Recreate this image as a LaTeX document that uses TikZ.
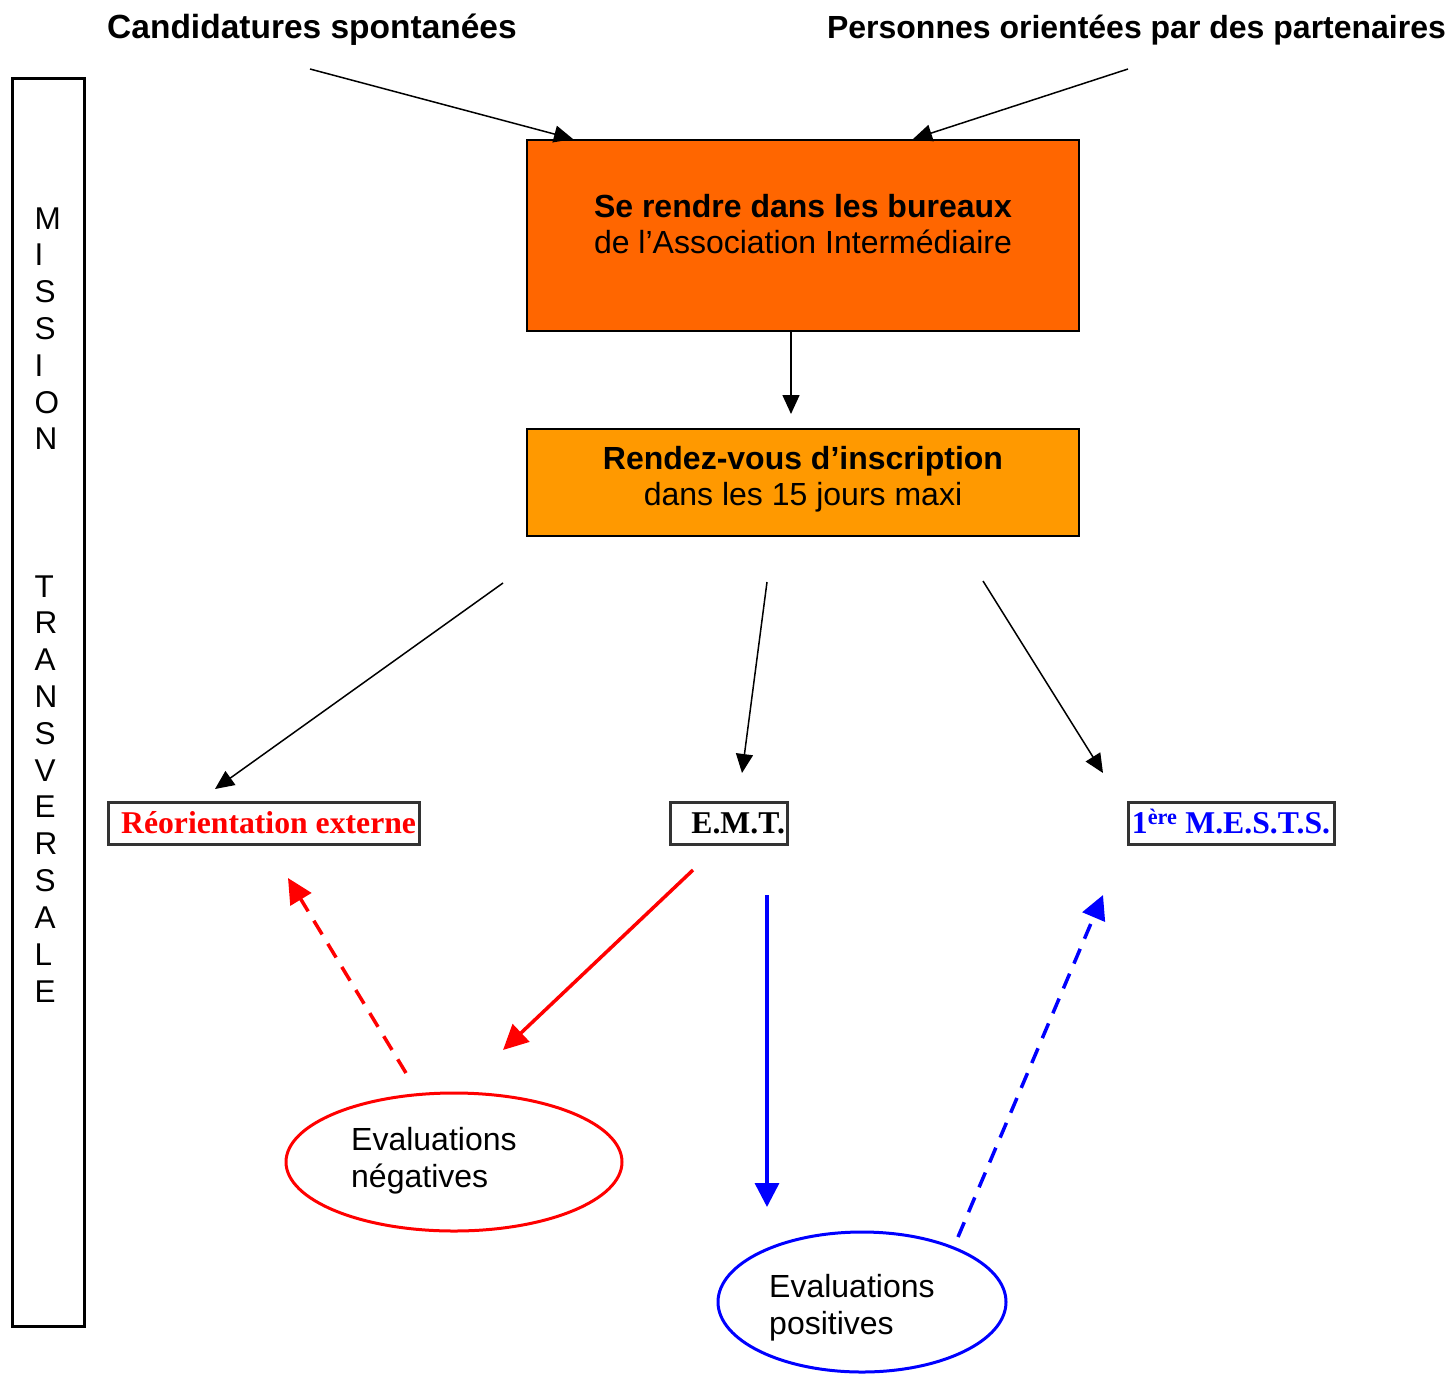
\documentclass[tikz,border=0pt]{standalone}
\usepackage{fontspec}
\setmainfont{Liberation Sans}
\newfontfamily\timesf{Liberation Serif}
\usetikzlibrary{arrows.meta,shapes.geometric}
\definecolor{orangeA}{HTML}{FF6600}
\definecolor{orangeB}{HTML}{FF9900}
\definecolor{boxgray}{HTML}{333333}
\tikzset{
  sans/.style={font=\fontsize{32}{36.5}\selectfont},
  blk/.style={line width=1.5pt,-{Triangle[length=19pt,width=17pt]}},
  redarr/.style={draw=red,line width=3.5pt,-{Triangle[length=25pt,width=24pt]},red},
  bluearr/.style={draw=blue,line width=3.5pt,-{Triangle[length=24pt,width=24pt]},blue},
  dsh/.style={dash pattern=on 16pt off 11pt},
  labelbox/.style={draw=boxgray,line width=3pt,inner sep=0pt,minimum height=42pt,
     text height=21pt,text depth=0pt,font=\timesf\bfseries\fontsize{31.7}{36}\selectfont},
  mainbox/.style={draw=black,line width=1.5pt,inner sep=0pt},
  titletext/.style={anchor=base,inner sep=0pt,font=\bfseries\fontsize{32}{36}\selectfont}
}
\begin{document}
\begin{tikzpicture}[x=1pt,y=-1pt]
\useasboundingbox (0,0) rectangle (1450,1373);
% left strip
\node[draw=black,line width=3pt,minimum width=72pt,minimum height=1248pt,inner sep=0pt] (strip) at (48,702) {};
\node[anchor=west,align=left,inner sep=0pt,font=\fontsize{31.5}{36.8}\selectfont] (striptext) at (34.5,604.75)
  {M\\I\\S\\S\\I\\O\\N\\~\\~\\~\\T\\R\\A\\N\\S\\V\\E\\R\\S\\A\\L\\E};
% titles
\node[titletext,font=\bfseries\fontsize{33.5}{36}\selectfont] (cand) at (312,38) {Candidatures spontanées};
\node[titletext] (pers) at (1136.5,38) {Personnes orientées par des partenaires};
% main boxes
\node[mainbox,fill=orangeA,minimum width=552pt,minimum height=191pt] (box1) at (803,235.5) {};
\node[sans,align=center,inner sep=0pt] (box1t) at (803,224) {\textbf{Se rendre dans les bureaux}\\de l’Association Intermédiaire};
\node[mainbox,fill=orangeB,minimum width=552pt,minimum height=107pt] (box2) at (803,482.5) {};
\node[sans,align=center,inner sep=0pt] (box2t) at (803,479) {\textbf{Rendez-vous d’inscription}\\dans les 15 jours maxi};
% label boxes
\node[labelbox,minimum width=311pt,text=red] (reo) at (263.5,823) {\makebox[305pt][r]{Réorientation externe}};
\node[labelbox,minimum width=117pt] (emt) at (728.5,823) {\makebox[113pt][r]{E.M.T.}};
\node[labelbox,minimum width=206pt,text=blue] (mests) at (1231,823) {1\textsuperscript{ère} M.E.S.T.S.};
% ellipses
\node[ellipse,draw=red,line width=3pt,minimum width=336pt,minimum height=138pt,inner sep=0pt] (neg) at (454,1162) {};
\node[anchor=west,align=left,inner sep=0pt,font=\fontsize{32}{37}\selectfont] (negt) at (351,1160.5) {Evaluations\\négatives};
\node[ellipse,draw=blue,line width=3pt,minimum width=288pt,minimum height=140pt,inner sep=0pt] (pos) at (862,1302) {};
\node[anchor=west,align=left,inner sep=0pt,font=\fontsize{32}{37}\selectfont] (post) at (769,1307.5) {Evaluations\\positives};
% arrow end points
\coordinate (c1s) at (310,69); \coordinate (c1e) at (573,139);
\coordinate (c2s) at (1128,69); \coordinate (c2e) at (913,139);
\coordinate (b1s) at (791,332); \coordinate (b1e) at (791,414);
\coordinate (d1s) at (503,583); \coordinate (d1e) at (215,789);
\coordinate (d2s) at (767,582); \coordinate (d2e) at (742,773);
\coordinate (d3s) at (983,581); \coordinate (d3e) at (1103,773);
\coordinate (r1s) at (693,870); \coordinate (r1e) at (503,1050);
\coordinate (r2s) at (406,1073); \coordinate (r2e) at (288,878);
\coordinate (u1s) at (767,895); \coordinate (u1e) at (767,1207);
\coordinate (u2s) at (958,1237); \coordinate (u2e) at (1103,895);
% connectors
\draw[blk] (c1s) -- (c1e);
\draw[blk] (c2s) -- (c2e);
\draw[blk] (b1s) -- (b1e);
\draw[blk] (d1s) -- (d1e);
\draw[blk] (d2s) -- (d2e);
\draw[blk] (d3s) -- (d3e);
\draw[redarr] (r1s) -- (r1e);
\draw[redarr,dsh] (r2s) -- (r2e);
\draw[bluearr] (u1s) -- (u1e);
\draw[bluearr,dsh] (u2s) -- (u2e);
\end{tikzpicture}
\end{document}
